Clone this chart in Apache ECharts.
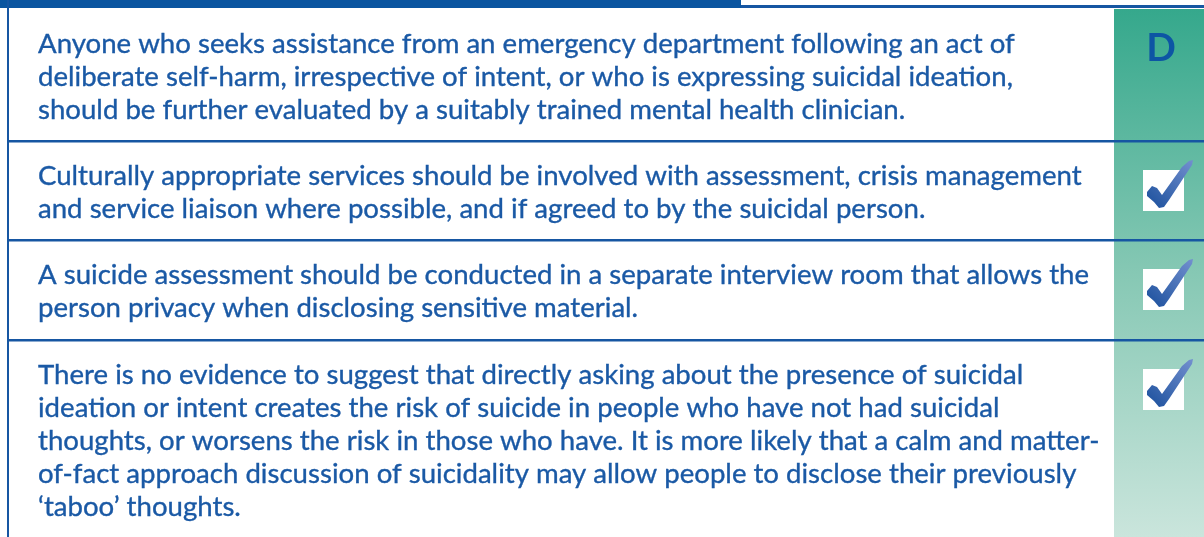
<!DOCTYPE html>
<html>
<head>
<meta charset="utf-8">
<script src="https://cdn.jsdelivr.net/npm/echarts@6/dist/echarts.min.js"></script>
<style>
  html, body { margin: 0; padding: 0; background: #fff; }
  #main { width: 1204px; height: 537px; }
</style>
</head>
<body>
<div id="main"></div>
<script>
// table content, one entry per row (line breaks as in the original)
var rowLines = [
    ['Anyone who seeks assistance from an emergency department following an act of',
     'deliberate self-harm, irrespective of intent, or who is expressing suicidal ideation,',
     'should be further evaluated by a suitably trained mental health clinician.'],
    ['Culturally appropriate services should be involved with assessment, crisis management',
     'and service liaison where possible, and if agreed to by the suicidal person.'],
    ['A suicide assessment should be conducted in a separate interview room that allows the',
     'person privacy when disclosing sensitive material.'],
    ['There is no evidence to suggest that directly asking about the presence of suicidal',
     'ideation or intent creates the risk of suicide in people who have not had suicidal',
     'thoughts, or worsens the risk in those who have. It is more likely that a calm and matter-',
     'of-fact approach discussion of suicidality may allow people to disclose their previously',
     '\u2018taboo\u2019 thoughts.']
];
// grade per row: a letter, or 'check' for a tick box
var rowGrades = ['D', 'check', 'check', 'check'];

var W = 1204, H = 537;
var rowEdges = [9, 141, 240, 340, 537];
var textX = 38, gradeX0 = 1114;
var blue = '#1a59a5', ruleBlue = '#1656a2';
var fontFamily = 'Lato, "Open Sans", sans-serif';

// fit font size so a long line spans about the same width as the original
var ctx = document.createElement('canvas').getContext('2d');
ctx.font = '100px ' + fontFamily;
var fontSize = 100 * 1044 / ctx.measureText(rowLines[1][0]).width;

var myChart = echarts.init(document.getElementById('main'));
var els = [];

// green grade column
els.push({
    type: 'rect', shape: { x: gradeX0, y: rowEdges[0], width: W - gradeX0, height: H - rowEdges[0] },
    style: { fill: new echarts.graphic.LinearGradient(0, 0, 0, 1, [
        { offset: 0, color: '#35a88c' },
        { offset: 0.5, color: '#86c8b4' },
        { offset: 1, color: '#cae5dc' }
    ]) },
    z: 1
});

// top bar and frame
els.push({ type: 'rect', shape: { x: 0, y: 0, width: 741, height: 8 }, style: { fill: '#0a55a0' }, z: 5 });
els.push({ type: 'rect', shape: { x: 741, y: 5, width: W - 741, height: 3 }, style: { fill: ruleBlue }, z: 5 });
els.push({ type: 'rect', shape: { x: 7, y: 0, width: 2, height: H }, style: { fill: ruleBlue }, z: 5 });

// row separators
for (var r = 1; r < rowEdges.length - 1; r++) {
    els.push({ type: 'rect', shape: { x: 7, y: rowEdges[r] - 1, width: W - 7, height: 2.5 }, style: { fill: ruleBlue }, z: 5 });
}

// tick mark shape, relative to top-left of its white box (41px)
var tickPts = [[4, 22], [9, 16], [14, 18], [19, 25], [39, -3], [46, -9], [50, -10], [49, -5],
               [26, 30], [21, 37], [16, 38], [11, 32], [4, 26]];

rowLines.forEach(function (lines, i) {
    var top = rowEdges[i];
    lines.forEach(function (line, j) {
        els.push({
            type: 'text', x: textX, y: top + 35.5 + j * 33, z: 10,
            style: {
                text: line, fill: blue, stroke: blue, lineWidth: 0.35,
                font: fontSize.toFixed(2) + 'px ' + fontFamily, verticalAlign: 'middle', align: 'left'
            }
        });
    });
    var g = rowGrades[i];
    if (g === 'check') {
        var bx = 1143, by = top + 29;
        els.push({ type: 'rect', shape: { x: bx, y: by, width: 41, height: 41 }, style: { fill: '#fff' }, z: 10 });
        els.push({
            type: 'polygon', x: bx, y: by, z: 11,
            shape: { points: tickPts },
            style: { fill: new echarts.graphic.LinearGradient(0, 1, 1, 0, [
                { offset: 0, color: '#1a4f9c' },
                { offset: 1, color: '#7390cf' }
            ]) }
        });
    } else {
        els.push({
            type: 'text', x: 1161, y: top + 39, z: 10,
            style: { text: g, fill: '#0d55a4', font: 'bold 39px ' + fontFamily, align: 'center', verticalAlign: 'middle' }
        });
    }
});

var option = {
    backgroundColor: '#fff',
    animation: false,
    graphic: { elements: els }
};
myChart.setOption(option);
</script>
</body>
</html>
